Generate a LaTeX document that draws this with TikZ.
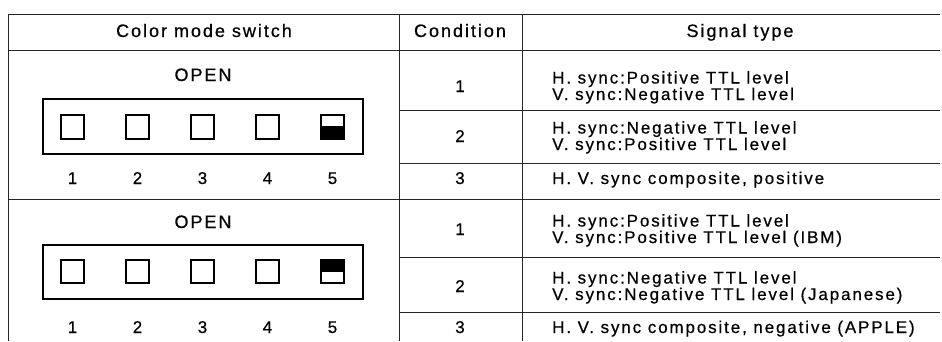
\documentclass[tikz,border=0pt]{standalone}
\usepackage{fontspec}
\setmainfont{Liberation Sans}
\newfontfamily\hdfont[LetterSpace=11,FakeBold=0.6]{Liberation Sans}
\newfontfamily\bdfont[LetterSpace=11,FakeBold=0.6]{Liberation Sans}
\tikzset{
  grid/.style={line width=0.9pt, draw=black!85},
  hd/.style={font=\hdfont\fontsize{18}{20}\selectfont, inner sep=0pt, anchor=base},
  bd/.style={font=\bdfont\fontsize{17}{16.5}\selectfont, inner sep=0pt, anchor=base},
  sig/.style={bd, anchor=base west, align=left},
  swbox/.style={draw, line width=1.6pt, inner sep=0pt, minimum width=320pt, minimum height=55pt},
  key/.style={draw, line width=1.2pt, inner sep=0pt, minimum width=23pt, minimum height=24pt},
}
\begin{document}
\begin{tikzpicture}[x=1pt,y=-1pt]
\useasboundingbox (0,0) rectangle (942,341);
% table rules
\draw[grid] (8,14) -- (940,14);
\draw[grid] (8,50) -- (940,50);
\draw[grid] (399,110) -- (940,110);
\draw[grid] (399,163) -- (940,163);
\draw[grid] (8,199) -- (940,199);
\draw[grid] (399,257) -- (940,257);
\draw[grid] (399,312) -- (940,312);
\draw[grid] (8,14) -- (8,341);
\draw[grid] (399,14) -- (399,341);
\draw[grid] (522,14) -- (522,341);
% headers
\node[hd] (hcm) at (204,37) {Color mode switch};
\node[hd] (hcond) at (460,37) {Condition};
\node[hd] (hsig) at (740,37) {Signal type};
% switch 1
\node[hd] (open1) at (203,81) {OPEN};
\node[swbox] (box1) at (203,126.5) {};
\foreach \i in {1,...,5} {
  \node[key] (ka\i) at ({72.5+65*(\i-1)},127) {};
  \node[bd] (na\i) at ({72.5+65*(\i-1)},184) {\i};
}
\fill (ka5.west |- 0,126) rectangle (ka5.south east);
% switch 2
\node[hd] (open2) at (203,228) {OPEN};
\node[swbox, minimum height=54pt] (box2) at (203,272) {};
\foreach \i in {1,...,5} {
  \node[key, minimum height=23pt] (kb\i) at ({72.5+65*(\i-1)},271.5) {};
  \node[bd] (nb\i) at ({72.5+65*(\i-1)},333) {\i};
}
\fill (kb5.north west) rectangle (kb5.east |- 0,272);
% conditions
\node[bd] (c1) at (460,92) {1};
\node[bd] (c2) at (460,142) {2};
\node[bd] (c3) at (460,184) {3};
\node[bd] (c4) at (460,235) {1};
\node[bd] (c5) at (460,292) {2};
\node[bd] (c6) at (460,333) {3};
% signal types (base anchor = last line's baseline)
\node[sig] (s1) at (552,100) {H. sync:Positive TTL level\\V. sync:Negative TTL level};
\node[sig] (s2) at (552,150) {H. sync:Negative TTL level\\V. sync:Positive TTL level};
\node[sig] (s3) at (552,184) {H. V. sync composite, positive};
\node[sig] (s4) at (552,243) {H. sync:Positive TTL level\\V. sync:Positive TTL level (IBM)};
\node[sig] (s5) at (552,300) {H. sync:Negative TTL level\\V. sync:Negative TTL level (Japanese)};
\node[sig] (s6) at (552,333) {H. V. sync composite, negative (APPLE)};
\end{tikzpicture}
\end{document}
